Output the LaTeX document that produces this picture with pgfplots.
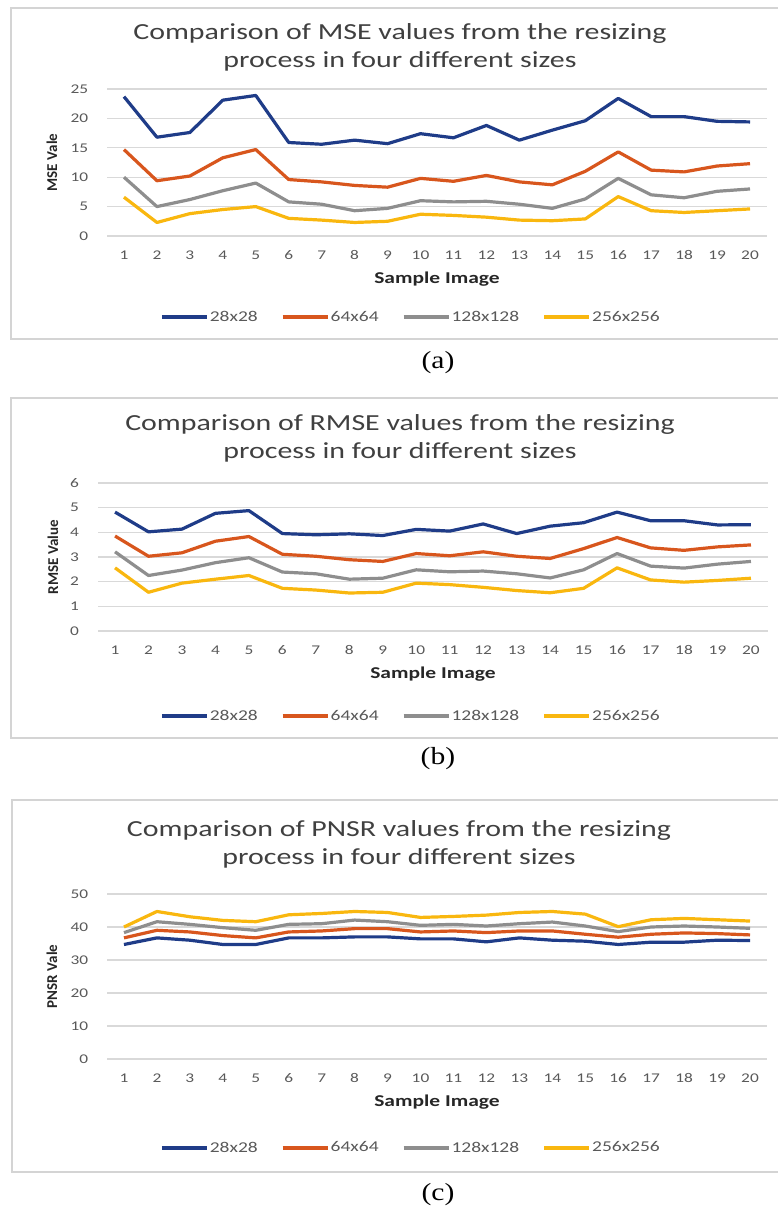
\documentclass[border=0pt]{standalone}
\usepackage{fontspec}
\setmainfont{Carlito}[FakeStretch=1.3]
\newfontfamily\ylabfont{Carlito}
\newfontfamily\capfont{Liberation Serif}[FakeStretch=1.2]
\usepackage{pgfplots}
\usepackage{pgfplotstable}
\pgfplotsset{compat=1.18}

\definecolor{cA}{HTML}{1F3C88}
\definecolor{cB}{HTML}{D8561D}
\definecolor{cC}{HTML}{8E8E8E}
\definecolor{cD}{HTML}{F9B70F}
\definecolor{gridc}{HTML}{D9D9D9}
\definecolor{boxc}{HTML}{D4D4D4}
\definecolor{titlec}{HTML}{404040}
\definecolor{tickc}{HTML}{595959}
\definecolor{labc}{HTML}{262626}

% MSE
\pgfplotstableread{
x s28 s64 s128 s256
1 23.7 14.7 10.0 6.6
2 16.8 9.4 5.0 2.3
3 17.6 10.2 6.2 3.8
4 23.1 13.3 7.7 4.5
5 23.9 14.7 9.0 5.0
6 15.9 9.6 5.8 3.0
7 15.6 9.2 5.4 2.7
8 16.3 8.6 4.3 2.3
9 15.7 8.3 4.7 2.5
10 17.4 9.8 6.0 3.7
11 16.7 9.3 5.8 3.5
12 18.8 10.3 5.9 3.2
13 16.3 9.2 5.4 2.7
14 18.0 8.7 4.7 2.6
15 19.6 11.0 6.3 2.9
16 23.4 14.3 9.8 6.7
17 20.3 11.2 7.0 4.3
18 20.3 10.9 6.5 4.0
19 19.5 11.9 7.6 4.3
20 19.4 12.3 8.0 4.6
}\msedata

% RMSE
\pgfplotstableread{
x s28 s64 s128 s256
1 4.82 3.85 3.21 2.56
2 4.02 3.03 2.25 1.57
3 4.13 3.17 2.47 1.94
4 4.77 3.64 2.77 2.10
5 4.88 3.83 2.97 2.25
6 3.95 3.11 2.39 1.73
7 3.90 3.03 2.32 1.66
8 3.94 2.89 2.10 1.54
9 3.87 2.82 2.14 1.57
10 4.12 3.14 2.48 1.94
11 4.05 3.05 2.40 1.88
12 4.34 3.21 2.43 1.77
13 3.95 3.03 2.32 1.64
14 4.25 2.94 2.15 1.55
15 4.39 3.34 2.48 1.73
16 4.82 3.79 3.14 2.56
17 4.47 3.37 2.63 2.07
18 4.47 3.27 2.55 1.98
19 4.30 3.41 2.71 2.05
20 4.31 3.49 2.82 2.14
}\rmsedata

% PSNR
\pgfplotstableread{
x s28 s64 s128 s256
1 34.7 36.7 38.3 40.0
2 36.7 39.0 41.6 44.7
3 36.0 38.5 40.8 43.1
4 34.7 37.4 39.8 42.0
5 34.7 36.7 39.0 41.6
6 36.7 38.5 40.8 43.7
7 36.7 38.8 41.0 44.1
8 37.0 39.5 42.1 44.7
9 37.0 39.5 41.6 44.4
10 36.4 38.5 40.5 42.9
11 36.4 38.8 40.8 43.2
12 35.5 38.3 40.3 43.6
13 36.7 38.8 41.0 44.4
14 36.0 38.8 41.5 44.7
15 35.7 37.8 40.3 43.9
16 34.7 36.9 38.6 40.1
17 35.4 37.8 40.0 42.2
18 35.4 38.2 40.3 42.6
19 36.0 38.0 40.0 42.2
20 35.9 37.6 39.6 41.8
}\psnrdata

\pgfplotsset{
  panel/.style={
    scale only axis,
    xmin=0.5, xmax=20.5, ymin=0,
    xtick={1,...,20},
    axis line style={draw=none},
    ymajorgrids,
    grid style={draw=gridc, line width=0.9pt},
    major tick length=0pt,
    tick label style={font=\fontsize{10}{10}\selectfont, text=tickc},
    /pgf/number format/assume math mode=true,
    xticklabel style={anchor=center, inner sep=0pt, yshift=-14.25pt},
    yticklabel style={anchor=east, inner sep=0pt, xshift=-14.25pt},
    xlabel={Sample Image},
    xlabel style={at={(axis description cs:0.5,0)}, anchor=center,
      yshift=-32.25pt, font=\bfseries\fontsize{12.4}{14}\selectfont, text=labc},
    ylabel style={anchor=center,
      font=\ylabfont\bfseries\fontsize{11.25}{12}\selectfont, text=labc},
    legend columns=4,
    legend style={draw=none, fill=none, inner sep=0pt,
      font=\fontsize{11.25}{12}\selectfont, text=tickc,
      nodes={inner sep=1pt},
      /tikz/every even column/.append style={column sep=16.5pt}},
    legend image code/.code={\draw[##1] (0pt,0pt) -- (33.75pt,0pt);},
    every axis plot/.append style={line width=2.4pt, line join=round},
    clip=false,
  },
}

\begin{document}
\begin{tikzpicture}
\path[use as bounding box] (0pt,0pt) rectangle (583.5pt,908.25pt);

% boxes
\draw[boxc, line width=0.9pt] (583.5pt,654pt) -- (8.25pt,654pt) -- (8.25pt,902.25pt) -- (583.5pt,902.25pt);
\draw[boxc, line width=0.9pt] (583.5pt,354.75pt) -- (8.25pt,354.75pt) -- (8.25pt,609.75pt) -- (583.5pt,609.75pt);
\draw[boxc, line width=0.9pt] (583.5pt,29.25pt) -- (9pt,29.25pt) -- (9pt,308.25pt) -- (583.5pt,308.25pt);

% titles
\node[align=center, font=\fontsize{17.25}{21}\selectfont, text=titlec] at (300pt,873pt)
  {Comparison of MSE values from the resizing\\process in four different sizes};
\node[align=center, font=\fontsize{17.25}{21}\selectfont, text=titlec] at (300pt,579.75pt)
  {Comparison of RMSE values from the resizing\\process in four different sizes};
\node[align=center, font=\fontsize{17.25}{21}\selectfont, text=titlec] at (299.25pt,275.25pt)
  {Comparison of PNSR values from the resizing\\process in four different sizes};

% captions
\node[font=\capfont\fontsize{18.5}{20}\selectfont] at (328.5pt,636pt) {(a)};
\node[font=\capfont\fontsize{18.5}{20}\selectfont] at (328.5pt,339pt) {(b)};
\node[font=\capfont\fontsize{18.5}{20}\selectfont] at (328.5pt,12pt) {(c)};

% (a) MSE
\begin{axis}[panel,
  at={(80.625pt,731.25pt)}, anchor=south west,
  width=494.25pt, height=110.25pt,
  ymax=25, ytick={0,5,...,25},
  ylabel={MSE Vale},
  ylabel style={at={(axis description cs:-0.0842,0.5)}},
  legend style={at={(axis description cs:0.0797,-0.551)}, anchor=west},
]
\addplot[cA] table[x=x, y=s28] {\msedata};
\addlegendentry{28x28}
\addplot[cB] table[x=x, y=s64] {\msedata};
\addlegendentry{64x64}
\addplot[cC] table[x=x, y=s128] {\msedata};
\addlegendentry{128x128}
\addplot[cD] table[x=x, y=s256] {\msedata};
\addlegendentry{256x256}
\end{axis}

% (b) RMSE
\begin{axis}[panel,
  at={(73.725pt,435pt)}, anchor=south west,
  width=502.05pt, height=111pt,
  ymax=6, ytick={0,1,...,6},
  ylabel={RMSE Value},
  ylabel style={at={(axis description cs:-0.0677,0.5)}},
  legend style={at={(axis description cs:0.0922,-0.574)}, anchor=west},
]
\addplot[cA] table[x=x, y=s28] {\rmsedata};
\addlegendentry{28x28}
\addplot[cB] table[x=x, y=s64] {\rmsedata};
\addlegendentry{64x64}
\addplot[cC] table[x=x, y=s128] {\rmsedata};
\addlegendentry{128x128}
\addplot[cD] table[x=x, y=s256] {\rmsedata};
\addlegendentry{256x256}
\end{axis}

% (c) PSNR
\begin{axis}[panel,
  at={(80.625pt,114pt)}, anchor=south west,
  width=494.25pt, height=123.75pt,
  ymax=50, ytick={0,10,...,50},
  ylabel={PNSR Vale},
  ylabel style={at={(axis description cs:-0.0842,0.5)}},
  legend style={at={(axis description cs:0.0797,-0.539)}, anchor=west},
]
\addplot[cA] table[x=x, y=s28] {\psnrdata};
\addlegendentry{28x28}
\addplot[cB] table[x=x, y=s64] {\psnrdata};
\addlegendentry{64x64}
\addplot[cC] table[x=x, y=s128] {\psnrdata};
\addlegendentry{128x128}
\addplot[cD] table[x=x, y=s256] {\psnrdata};
\addlegendentry{256x256}
\end{axis}
\end{tikzpicture}
\end{document}
